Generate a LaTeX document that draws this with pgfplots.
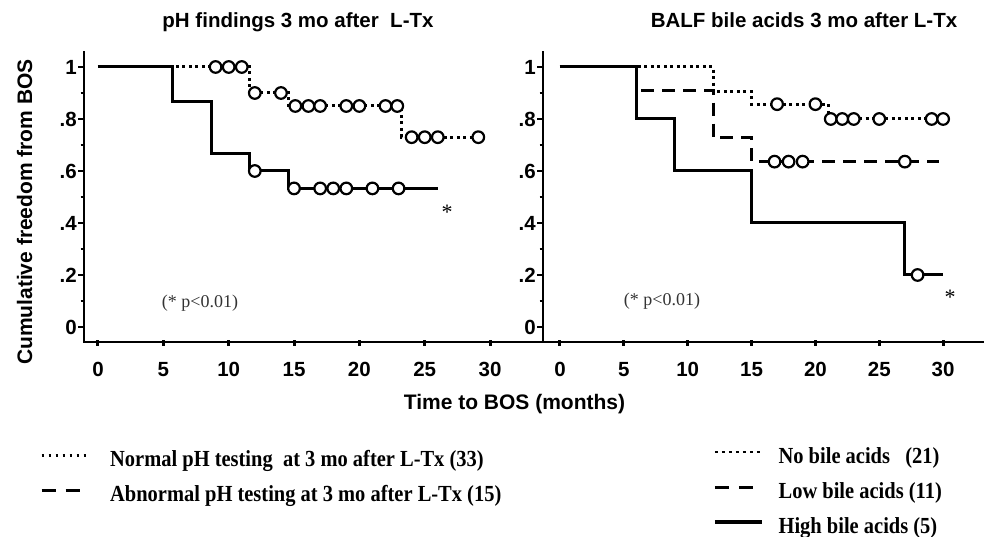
\documentclass[border=0pt]{standalone}
\usepackage{fontspec}
\setmainfont{Liberation Serif}
\newfontfamily\sansb{Liberation Sans}
\newfontfamily\legf{Liberation Serif}[FakeStretch=0.89]
\usepackage{pgfplots}
\pgfplotsset{compat=1.18}
\newcommand\sfb{\sansb\bfseries\fontsize{20.5}{22}\selectfont}
\newcommand\legb{\legf\bfseries\fontsize{23}{25}\selectfont}
\tikzset{
  legdot/.style={line width=2.6pt, dash pattern=on 2.6pt off 4.4pt},
  legdash/.style={line width=3pt, dash pattern=on 14pt off 10pt},
  legsolid/.style={line width=3.4pt, solid},
}
\pgfplotsset{
  kmsolid/.style={const plot, line width=3pt, solid},
  kmdot/.style={const plot, line width=3pt, dash pattern=on 3pt off 3.5pt},
  kmdash/.style={const plot, line width=3pt, dash pattern=on 13pt off 8pt},
  cens/.style={only marks, mark=*, mark size=5.8pt, mark options={fill=white, draw=black, line width=2.2pt, solid}},
  km/.style={
    scale only axis, clip=false,
    axis x line=bottom, axis y line=left,
    axis line style={-, line width=2.6pt, line cap=rect},
    ymin=-0.0577, ymax=1.0577, height=290pt,
    xtick={0,5,10,15,20,25,30}, xticklabels={0,5,10,15,20,25,30},
    ytick={0,0.2,0.4,0.6,0.8,1}, yticklabels={0,.2,.4,.6,.8,1},
    minor ytick={0.1,0.3,0.5,0.7,0.9},
    tick align=outside, major tick length=6pt, minor tick length=3.5pt,
    every tick/.style={black, line width=2.2pt},
    xtick style={yshift=2pt, line width=3pt},
    tick label style={font=\sfb},
    yticklabel style={inner sep=1pt},
    xticklabel style={yshift=-11pt},
    legend style={draw=none, fill=none, inner sep=0pt, row sep=15pt, column sep=20pt,
      font=\legb, nodes={inner sep=0pt, text height=15pt, text depth=5pt}, cells={anchor=west}},
    legend image code/.code={\draw[##1] (0pt,6pt) -- (47pt,6pt);},
  },
}
\begin{document}
\begin{tikzpicture}[x=1pt,y=1pt]
\path[use as bounding box] (0,0) rectangle (984,537);
% left panel
\begin{axis}[km, at={(84pt,195pt)}, anchor=south west, width=459pt, xmin=-1.07, xmax=34.05,
  legend style={at={(-0.0959,-0.376)}, anchor=north west}]
\addlegendimage{legdot}\addlegendentry{Normal pH testing\ \ at 3 mo after L-Tx (33)}
\addlegendimage{legdash}\addlegendentry{Abnormal pH testing at 3 mo after L-Tx (15)}
\addplot[kmdot, forget plot] coordinates {(0,1)(11.6,0.9)(14.6,0.85)(23.2,0.73)(29.1,0.73)};
\addplot[kmsolid, forget plot] coordinates {(0,1)(5.7,0.867)(8.7,0.667)(11.6,0.6)(14.6,0.533)(26,0.533)};
\addplot[cens, forget plot] coordinates {(9,1)(10,1)(11,1)(12,0.9)(14,0.9)(15.1,0.85)(16.1,0.85)(17,0.85)(19,0.85)(20,0.85)(22,0.85)(22.9,0.85)(24,0.73)(25,0.73)(26,0.73)(29.1,0.73)};
\addplot[cens, forget plot] coordinates {(12,0.6)(15,0.533)(17,0.533)(18,0.533)(19,0.533)(21,0.533)(23,0.533)};
\end{axis}
% right panel
\begin{axis}[km, at={(543pt,195pt)}, anchor=south west, width=441pt, xmin=-1.33, xmax=33.2,
  legend style={at={(0.3855,-0.3655)}, anchor=north west, column sep=15pt}]
\addlegendimage{legdot}\addlegendentry{No bile acids\ \ \ (21)}
\addlegendimage{legdash}\addlegendentry{Low bile acids (11)}
\addlegendimage{legsolid}\addlegendentry{High bile acids (5)}
\addplot[kmdot, forget plot] coordinates {(0,1)(12,0.905)(15,0.857)(21,0.8)(30,0.8)};
\addplot[kmdash, forget plot] coordinates {(0,1)(6,0.909)(12,0.727)(15,0.636)(29.7,0.636)};
\addplot[kmsolid, forget plot] coordinates {(0,1)(6,0.8)(9,0.6)(15,0.4)(27,0.2)(30,0.2)};
\addplot[cens, forget plot] coordinates {(17,0.857)(20,0.857)(21.2,0.8)(22.1,0.8)(23,0.8)(25,0.8)(29.1,0.8)(30,0.8)};
\addplot[cens, forget plot] coordinates {(16.8,0.636)(17.9,0.636)(19,0.636)(27,0.636)};
\addplot[cens, forget plot] coordinates {(28,0.2)};
\end{axis}
% texts
\node[font=\sansb\bfseries\fontsize{20.5}{22}\selectfont, anchor=base] at (298,509) {pH findings 3 mo after\ \ L-Tx};
\node[font=\sansb\bfseries\fontsize{20.5}{22}\selectfont, anchor=base] at (804,509) {BALF bile acids 3 mo after L-Tx};
\node[font=\sansb\bfseries\fontsize{21}{22}\selectfont, anchor=base] at (514.5,127) {Time to BOS (months)};
\node[font=\sansb\bfseries\fontsize{21}{22}\selectfont, rotate=90, anchor=base] at (32,325) {Cumulative freedom from BOS};
\node[font=\fontsize{18}{20}\selectfont, text=black!80, anchor=base] at (200,229) {(* p<0.01)};
\node[font=\fontsize{18}{20}\selectfont, text=black!80, anchor=base] at (662,231) {(* p<0.01)};
\node[font=\fontsize{22}{24}\selectfont, anchor=base] at (447,317) {*};
\node[font=\fontsize{22}{24}\selectfont, anchor=base] at (950,232) {*};
\end{tikzpicture}
\end{document}
